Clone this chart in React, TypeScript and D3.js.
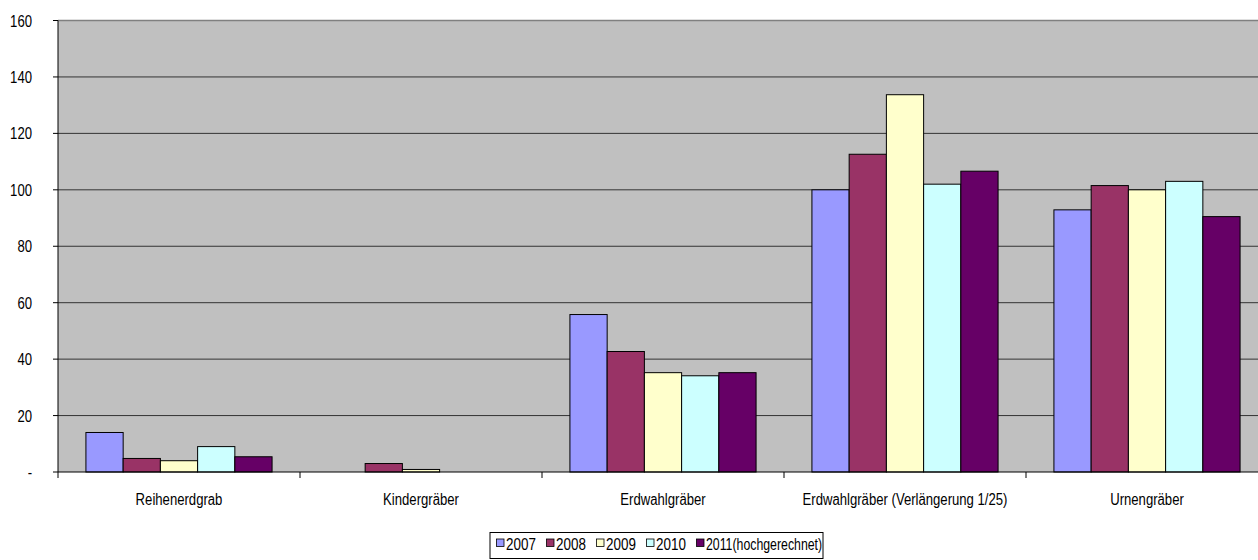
import React from "react";
import * as d3 from "d3";

const categories = [
  "Reihenerdgrab",
  "Kindergräber",
  "Erdwahlgräber",
  "Erdwahlgräber (Verlängerung 1/25)",
  "Urnengräber",
];
const seriesNames = ["2007", "2008", "2009", "2010", "2011(hochgerechnet)"];
const v2007 = [14.0, 0, 55.8, 100, 92.9];
const v2008 = [4.8, 3.0, 42.7, 112.6, 101.5];
const v2009 = [4.0, 0.9, 35.2, 133.7, 100];
const v2010 = [9.0, 0, 34.1, 102, 103];
const v2011 = [5.4, 0, 35.2, 106.6, 90.5];
const seriesValues = [v2007, v2008, v2009, v2010, v2011];
const seriesColors = ["#9999FF", "#993366", "#FFFFCC", "#CCFFFF", "#660066"];
const yTicks = [0, 20, 40, 60, 80, 100, 120, 140, 160];

const W = 1258;
const H = 560;
const left = 58;
const right = 1268;
const top = 20.5;
const bottom = 472;
const FONT = "'Liberation Sans', Arial, sans-serif";
const SX = 0.82;

function T(props: { x: number; y: number; anchor?: string; sx?: number; children: React.ReactNode }) {
  return (
    <text
      transform={`translate(${props.x},${props.y}) scale(${props.sx || SX},1)`}
      textAnchor={props.anchor || "start"}
      fontSize={16}
      fill="#000"
    >
      {props.children}
    </text>
  );
}

export default function App() {
  const x0 = d3.scaleBand<string>().domain(categories).range([left, right]).padding(0);
  const bw = x0.bandwidth();
  const gap = (bw / 6.5) * 0.75;
  const x1 = d3.scaleBand<string>().domain(seriesNames).range([gap, bw - gap]).padding(0);
  const y = d3.scaleLinear().domain([0, 160]).range([bottom, top]);

  const legendX = d3.scaleBand<string>().domain(seriesNames).range([496, 746]);

  return (
    <svg
      width={W}
      height={H}
      style={{ position: "absolute", left: 0, top: 0 }}
      fontFamily={FONT}
    >
      <rect x={0} y={0} width={W} height={H} fill="#fff" />
      <rect x={left} y={top} width={right - left} height={bottom - top} fill="#C0C0C0" />
      {yTicks.map((t) => (
        <g key={t}>
          {t > 0 && (
            <line x1={left} x2={right} y1={y(t)} y2={y(t)} stroke={t === 160 ? "#808080" : "#333"} strokeWidth={t === 160 ? 1.5 : 1} />
          )}
          <line x1={left - 5} x2={left} y1={y(t)} y2={y(t)} stroke="#000" />
          <T x={32} y={y(t) + 6} anchor="end">
            {t === 0 ? "-" : t}
          </T>
        </g>
      ))}
      {categories.map((c, ci) => (
        <g key={c}>
          {seriesNames.map((s, si) => {
            const v = seriesValues[si][ci];
            if (!v) return null;
            return (
              <rect
                key={s}
                x={(x0(c) as number) + (x1(s) as number)}
                y={y(v)}
                width={x1.bandwidth()}
                height={y(0) - y(v)}
                fill={seriesColors[si]}
                stroke="#000"
                strokeWidth={1}
              />
            );
          })}
          <T x={(x0(c) as number) + bw / 2} y={505} anchor="middle">
            {c}
          </T>
        </g>
      ))}
      <line x1={left} x2={right} y1={bottom} y2={bottom} stroke="#000" />
      <line x1={left} x2={left} y1={top} y2={bottom} stroke="#000" />
      {categories.concat([""]).map((c, i) => (
        <line
          key={i}
          x1={left + i * bw}
          x2={left + i * bw}
          y1={bottom}
          y2={bottom + 6}
          stroke="#000"
        />
      ))}
      <rect x={490} y={532.5} width={333} height={26} fill="#fff" stroke="#000" />
      {seriesNames.map((s, si) => (
        <g key={s}>
          <rect
            x={(legendX(s) as number) + 0.5}
            y={539}
            width={7.5}
            height={7.5}
            fill={seriesColors[si]}
            stroke="#000"
            strokeWidth={0.8}
          />
          <T x={(legendX(s) as number) + 10} y={550} sx={si === 4 ? 0.77 : 0.84}>
            {s}
          </T>
        </g>
      ))}
    </svg>
  );
}
